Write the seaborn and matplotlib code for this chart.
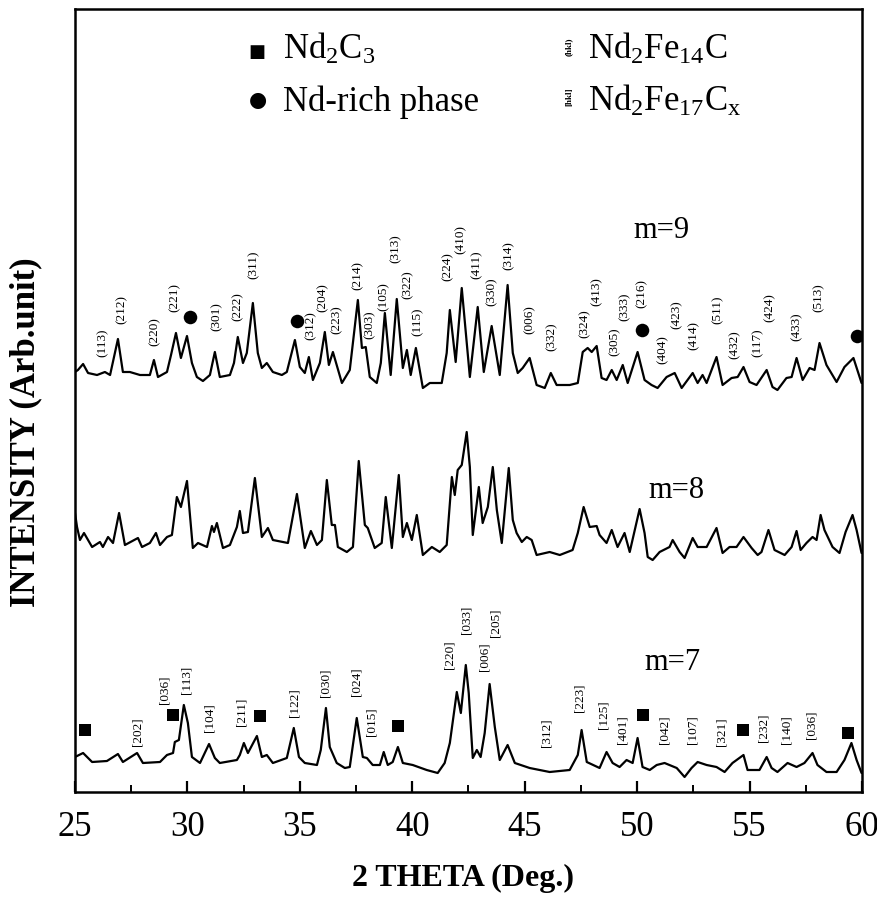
import pandas as pd
import seaborn as sns
import matplotlib.pyplot as plt

# ---------------- diffraction traces (2-theta in degrees, intensity in arb. units) ----------------
theta_m9 = [25.00, 25.13, 25.36, 25.58, 25.98, 26.33, 26.56, 26.91, 27.13, 27.44, 27.89, 28.33, 28.51,
            28.69, 29.09, 29.27, 29.49, 29.71, 29.98, 30.20, 30.42, 30.69, 31.00, 31.22, 31.44, 31.89,
            32.07, 32.24, 32.47, 32.64, 32.91, 33.13, 33.31, 33.53, 33.80, 34.20, 34.42, 34.78, 35.00,
            35.22, 35.40, 35.58, 35.89, 36.11, 36.29, 36.47, 36.87, 37.22, 37.58, 37.76, 37.93, 38.11,
            38.42, 38.60, 38.78, 39.04, 39.31, 39.58, 39.76, 39.93, 40.16, 40.47, 40.78, 41.31, 41.53,
            41.67, 41.93, 42.20, 42.56, 42.91, 43.18, 43.53, 43.89, 44.24, 44.47, 44.69, 44.91, 45.22,
            45.53, 45.89, 46.16, 46.42, 47.00, 47.36, 47.58, 47.80, 47.98, 48.20, 48.42, 48.64, 48.87,
            49.09, 49.36, 49.58, 50.02, 50.33, 50.64, 50.91, 51.31, 51.67, 51.98, 52.47, 52.69, 52.91,
            53.09, 53.53, 53.80, 54.20, 54.47, 54.73, 55.00, 55.31, 55.76, 56.02, 56.24, 56.64, 56.87,
            57.09, 57.36, 57.67, 57.89, 58.11, 58.42, 58.87, 59.22, 59.62, 59.98]
counts_m9 = [420, 422, 428, 419, 417, 420, 417, 453, 420, 420, 417, 417, 432,
             415, 420, 437, 459, 434, 456, 429, 415, 411, 417, 440, 415, 417,
             429, 455, 429, 439, 489, 439, 424, 429, 420, 417, 420, 452, 425,
             419, 435, 412, 429, 460, 427, 440, 409, 422, 492, 444, 445, 415,
             409, 429, 479, 417, 493, 424, 442, 417, 444, 404, 409, 409, 439,
             482, 430, 504, 415, 485, 420, 466, 417, 507, 439, 419, 424, 434,
             407, 404, 419, 407, 407, 409, 440, 444, 440, 446, 414, 412, 422,
             412, 427, 409, 440, 412, 407, 404, 415, 419, 404, 419, 409, 417,
             409, 435, 407, 414, 415, 425, 410, 407, 422, 405, 402, 414, 415,
             434, 412, 424, 422, 449, 427, 410, 425, 434, 409]

theta_m8 = [25.00, 25.09, 25.22, 25.40, 25.53, 25.76, 26.11, 26.24, 26.47, 26.69, 26.96, 27.22, 27.80,
            27.98, 28.33, 28.60, 28.78, 29.09, 29.31, 29.53, 29.71, 29.98, 30.24, 30.47, 30.87, 31.09,
            31.18, 31.31, 31.58, 31.89, 32.20, 32.33, 32.47, 32.69, 33.00, 33.31, 33.58, 33.80, 34.47,
            34.87, 35.22, 35.49, 35.76, 35.98, 36.20, 36.42, 36.56, 36.69, 37.09, 37.36, 37.62, 37.89,
            38.02, 38.33, 38.64, 38.82, 39.09, 39.40, 39.58, 39.76, 39.98, 40.20, 40.47, 40.87, 41.22,
            41.53, 41.76, 41.89, 42.02, 42.20, 42.42, 42.56, 42.69, 42.96, 43.13, 43.36, 43.58, 43.76,
            43.98, 44.29, 44.47, 44.64, 44.87, 45.09, 45.31, 45.53, 46.11, 46.56, 47.13, 47.36, 47.62,
            47.89, 48.20, 48.33, 48.64, 48.87, 49.13, 49.44, 49.67, 50.11, 50.33, 50.47, 50.69, 51.00,
            51.44, 51.58, 51.89, 52.11, 52.47, 52.69, 53.09, 53.53, 53.80, 54.11, 54.42, 54.73, 55.09,
            55.36, 55.53, 55.84, 56.11, 56.56, 56.87, 57.09, 57.27, 57.53, 57.80, 57.98, 58.16, 58.33,
            58.69, 59.00, 59.27, 59.58, 59.76, 59.98]
counts_m8 = [279, 265, 252, 259, 254, 245, 250, 245, 255, 249, 279, 247, 254,
             245, 249, 259, 247, 255, 257, 295, 285, 311, 244, 249, 245, 266,
             260, 269, 244, 247, 265, 281, 259, 260, 314, 255, 264, 252, 249,
             298, 244, 261, 247, 252, 312, 267, 267, 245, 240, 245, 331, 267,
             264, 244, 249, 295, 244, 317, 255, 269, 252, 277, 237, 245, 240,
             247, 315, 297, 322, 327, 360, 325, 257, 305, 269, 285, 325, 282,
             249, 324, 272, 259, 250, 255, 252, 237, 240, 237, 242, 259, 285,
             265, 266, 257, 249, 262, 245, 259, 240, 283, 259, 235, 232, 240,
             245, 252, 240, 234, 254, 245, 245, 264, 239, 245, 245, 255, 244,
             237, 240, 262, 242, 237, 245, 261, 242, 249, 255, 252, 277, 262,
             245, 239, 260, 277, 262, 239]

theta_m7 = [25.00, 25.36, 25.76, 26.42, 26.91, 27.13, 27.76, 28.02, 28.78, 29.09, 29.36, 29.44, 29.62,
            29.84, 30.02, 30.20, 30.56, 30.96, 31.22, 31.44, 32.20, 32.33, 32.51, 32.69, 33.09, 33.31,
            33.53, 33.80, 34.42, 34.73, 34.96, 35.22, 35.76, 35.93, 36.16, 36.33, 36.64, 37.00, 37.22,
            37.53, 37.80, 37.98, 38.24, 38.56, 38.73, 38.91, 39.13, 39.36, 39.58, 40.02, 40.64, 41.13,
            41.44, 41.67, 41.98, 42.16, 42.38, 42.51, 42.69, 42.87, 43.04, 43.22, 43.44, 43.67, 43.89,
            44.24, 44.56, 45.22, 46.11, 47.00, 47.36, 47.53, 47.76, 48.33, 48.64, 48.91, 49.22, 49.53,
            49.80, 50.02, 50.24, 50.56, 50.87, 51.22, 51.76, 52.11, 52.42, 52.69, 53.09, 53.53, 53.89,
            54.24, 54.73, 54.91, 55.44, 55.76, 55.98, 56.24, 56.69, 57.09, 57.44, 57.80, 58.02, 58.42,
            58.87, 59.22, 59.53, 59.76, 59.98]
counts_m7 = [35, 39, 30, 31, 38, 30, 39, 29, 30, 37, 39, 50, 52,
             87, 69, 35, 29, 48, 34, 29, 32, 37, 49, 39, 56, 35,
             37, 29, 34, 64, 35, 29, 27, 42, 84, 45, 29, 24, 25,
             74, 35, 34, 27, 27, 40, 27, 30, 45, 29, 27, 22, 19,
             29, 49, 100, 79, 127, 99, 34, 42, 35, 59, 108, 65, 32,
             47, 29, 24, 20, 22, 37, 62, 30, 24, 40, 29, 25, 32,
             29, 54, 25, 22, 27, 29, 24, 15, 24, 30, 27, 25, 20,
             29, 37, 22, 22, 35, 24, 20, 29, 25, 29, 39, 27, 20,
             20, 32, 49, 32, 19]

# ---------------- reflection labels ----------------
# Nd2Fe14C reflections indexed on the m=9 pattern
hkl_m9 = ['(113)', '(212)', '(220)', '(221)', '(301)', '(222)', '(311)', '(312)', '(204)', '(223)',
          '(214)', '(303)', '(105)', '(313)', '(322)', '(115)', '(224)', '(410)', '(411)', '(330)',
          '(314)', '(006)', '(332)', '(324)', '(413)', '(305)', '(333)', '(216)', '(404)', '(423)',
          '(414)', '(511)', '(432)', '(117)', '(424)', '(433)', '(513)']
hkl_m9_x = [26.24, 27.09, 28.56, 29.44, 31.31, 32.24, 32.96, 35.49, 36.02, 36.64,
            37.58, 38.11, 38.73, 39.27, 39.80, 40.24, 41.58, 42.16, 42.87, 43.53,
            44.29, 45.22, 46.20, 47.67, 48.20, 49.00, 49.44, 50.20, 51.13, 51.76,
            52.51, 53.58, 54.33, 55.36, 55.89, 57.09, 58.07]
hkl_m9_y = [449, 482, 460, 494, 475, 485, 527, 466, 494, 472,
            517, 467, 495, 543, 507, 470, 525, 553, 527, 500,
            536, 472, 455, 468, 500, 450, 485, 499, 442, 477,
            457, 482, 447, 449, 484, 465, 494]

# Nd-rich phase peaks on the m=9 pattern
ndrich_x = [30.11, 34.87, 50.20, 59.76]
ndrich_y = [475, 471, 462, 456]

# Nd2Fe17Cx reflections indexed on the m=7 pattern
hkl_m7 = ['[202]', '[036]', '[113]', '[104]', '[211]', '[122]', '[030]', '[024]', '[015]', '[220]',
          '[033]', '[006]', '[205]', '[312]', '[223]', '[125]', '[401]', '[042]', '[107]', '[321]',
          '[232]', '[140]', '[036]']
hkl_m7_x = [27.80, 29.00, 29.98, 30.96, 32.42, 34.78, 36.16, 37.53, 38.20, 41.67,
            42.42, 43.22, 43.71, 45.98, 47.44, 48.51, 49.36, 51.22, 52.47, 53.76,
            55.62, 56.64, 57.76]
hkl_m7_y = [60, 102, 112, 74, 80, 89, 109, 110, 70, 137,
            172, 135, 169, 59, 94, 77, 62, 62, 62, 60,
            64, 62, 67]

# Nd2C3 peaks on the m=7 pattern
ndc_x = [25.44, 29.36, 33.22, 39.36, 50.24, 54.69, 59.36]
ndc_y = [62, 77, 76, 66, 77, 62, 59]

samples = ['m=9', 'm=8', 'm=7']
sample_label_x = [51.09, 51.76, 51.58]
sample_label_y = [562, 302, 130]

# ---------------- figure ----------------
sns.set_theme(style='white')
plt.rcParams['font.family'] = ['Liberation Serif', 'DejaVu Serif']
plt.rcParams['mathtext.fontset'] = 'custom'
plt.rcParams['mathtext.rm'] = 'Liberation Serif'
plt.rcParams['mathtext.it'] = 'Liberation Serif:italic'
plt.rcParams['mathtext.bf'] = 'Liberation Serif:bold'
plt.rcParams['text.color'] = 'black'
plt.rcParams['axes.labelcolor'] = 'black'
plt.rcParams['xtick.color'] = 'black'
plt.rcParams['ytick.color'] = 'black'

fig = plt.figure(figsize=(8.78, 9.17), dpi=100)
ax = fig.add_axes([75 / 878, 1 - 792 / 917, 787 / 878, 783 / 917])

traces = pd.concat([
    pd.DataFrame({'two_theta': theta_m9, 'intensity': counts_m9, 'sample': 'm=9'}),
    pd.DataFrame({'two_theta': theta_m8, 'intensity': counts_m8, 'sample': 'm=8'}),
    pd.DataFrame({'two_theta': theta_m7, 'intensity': counts_m7, 'sample': 'm=7'}),
])
sns.lineplot(data=traces, x='two_theta', y='intensity', units='sample', estimator=None,
             sort=False, color='black', lw=1.6, ax=ax, legend=False)

for lab, x, y in zip(hkl_m9, hkl_m9_x, hkl_m9_y):
    ax.text(x, y, lab, rotation=90, ha='center', va='center', fontsize=9.5, color='black')
for lab, x, y in zip(hkl_m7, hkl_m7_x, hkl_m7_y):
    ax.text(x, y, lab, rotation=90, ha='center', va='center', fontsize=9.5, color='black')

sns.scatterplot(x=ndrich_x, y=ndrich_y, marker='o', s=95, color='black', edgecolor='black',
                linewidth=0, ax=ax, legend=False)
sns.scatterplot(x=ndc_x, y=ndc_y, marker='s', s=80, color='black', edgecolor='black',
                linewidth=0, ax=ax, legend=False)

for name, x, y in zip(samples, sample_label_x, sample_label_y):
    ax.text(x, y, name, ha='center', va='center', fontsize=22)

ax.set_xlim(25, 60)
ax.set_ylim(0, 783)
ax.set_xticks([25, 30, 35, 40, 45, 50, 55, 60])
ax.set_xticks([27.5, 32.5, 37.5, 42.5, 47.5, 52.5, 57.5], minor=True)
ax.set_yticks([])
ax.tick_params(axis='x', which='major', direction='in', length=8, width=1.6,
               labelsize=25, pad=14, bottom=True, top=False)
ax.tick_params(axis='x', which='minor', direction='in', length=5, width=1.4,
               bottom=True, top=False)
for sp in ax.spines.values():
    sp.set_linewidth(1.8)
    sp.set_color('black')

ax.set_xlabel('2 THETA (Deg.)', fontsize=23, fontweight='bold')
ax.xaxis.set_label_coords(0.493, -0.092)
ax.set_ylabel('INTENSITY (Arb.unit)', fontsize=25, fontweight='bold')
ax.yaxis.set_label_coords(-0.042, 0.46)

# key of symbols in the upper part of the frame
def fx(px):
    return px / 878

def fy(py):
    return 1 - py / 917

fig.text(fx(257), fy(52), '\u25A0', ha='center', va='center', fontsize=13,
         family=['DejaVu Sans'])
fig.text(fx(283), fy(59), r'Nd$_2$C$_3$', ha='left', va='baseline', fontsize=25)
fig.text(fx(258), fy(100), '\u25CF', ha='center', va='center', fontsize=15,
         family=['DejaVu Sans'])
fig.text(fx(283), fy(111), 'Nd-rich phase', ha='left', va='baseline', fontsize=25)
fig.text(fx(569), fy(47), '(hkl)', rotation=90, ha='center', va='center', fontsize=6.5,
         fontweight='bold')
fig.text(fx(588), fy(59), r'Nd$_2$Fe$_{14}$C', ha='left', va='baseline', fontsize=25)
fig.text(fx(569), fy(97), '[hkl]', rotation=90, ha='center', va='center', fontsize=6.5,
         fontweight='bold')
fig.text(fx(588), fy(111), r'Nd$_2$Fe$_{17}$C$_\mathrm{x}$', ha='left', va='baseline', fontsize=25)

fig.savefig('out.png', dpi=100)
